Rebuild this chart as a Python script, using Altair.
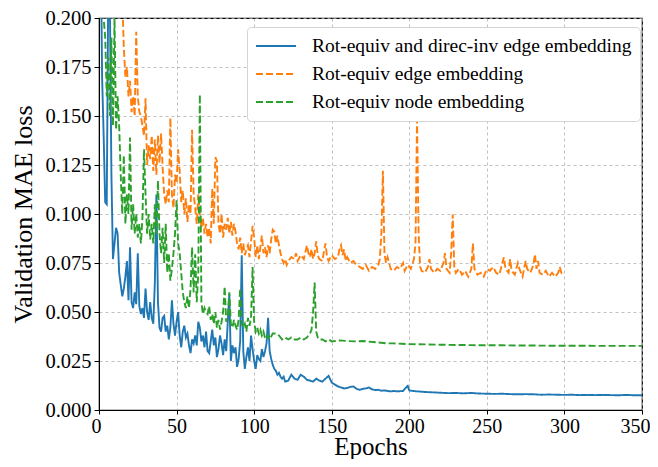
import altair as alt
import pandas as pd

# ---------------- data ----------------
series_names = [
    "Rot-equiv and direc-inv edge embedding",
    "Rot-equiv edge embedding",
    "Rot-equiv node embedding",
]
series_colors = ["#1f77b4", "#ff7f0e", "#2ca02c"]
series_dashes = [[1, 0], [7, 3], [7, 3]]

blue_epochs = list(range(0, 120)) + list(range(120, 198, 2)) + [198, 199, 200] + list(range(205, 351, 5))
blue_values = [
    0.40, 0.25, 0.17, 0.14, 0.106, 0.105, 0.22, 0.21, 0.12, 0.077,
    0.085, 0.093, 0.090, 0.070, 0.064, 0.058, 0.062, 0.068, 0.076, 0.056,
    0.083, 0.055, 0.052, 0.060, 0.054, 0.080, 0.053, 0.049, 0.052, 0.047,
    0.062, 0.050, 0.046, 0.055, 0.047, 0.044, 0.065, 0.110, 0.055, 0.042,
    0.040, 0.047, 0.048, 0.040, 0.043, 0.036, 0.042, 0.056, 0.044, 0.038,
    0.045, 0.050, 0.038, 0.032, 0.040, 0.043, 0.037, 0.039, 0.033, 0.029,
    0.036, 0.034, 0.038, 0.033, 0.045, 0.042, 0.035, 0.038, 0.032, 0.040,
    0.030, 0.029, 0.035, 0.041, 0.033, 0.037, 0.027, 0.031, 0.038, 0.034,
    0.028, 0.036, 0.030, 0.045, 0.059, 0.025, 0.033, 0.029, 0.032, 0.022,
    0.026, 0.035, 0.079, 0.030, 0.021, 0.027, 0.032, 0.025, 0.038, 0.031,
    0.025, 0.021, 0.028, 0.026, 0.025, 0.031, 0.027, 0.030, 0.034, 0.047,
    0.030, 0.026, 0.023, 0.021, 0.020, 0.018, 0.019, 0.017, 0.016, 0.017,
    # 120..196 step 2
    0.0145, 0.015, 0.018, 0.016, 0.0154, 0.018, 0.017, 0.0154, 0.015, 0.0145,
    0.016, 0.015, 0.0145, 0.016, 0.0174, 0.014, 0.013, 0.012, 0.0115, 0.011,
    0.0112, 0.0118, 0.012, 0.0108, 0.0103, 0.0108, 0.011, 0.0115, 0.0105, 0.0102,
    0.0103, 0.0098, 0.0100, 0.0097, 0.0095, 0.0097, 0.0095, 0.0096, 0.0097,
    # 198, 199, 200
    0.0115, 0.0123, 0.0100,
    # 205..350 step 5
    0.0095, 0.0092, 0.0090, 0.0088, 0.0086, 0.0087, 0.0085, 0.0087, 0.0084, 0.0083,
    0.0082, 0.0083, 0.0081, 0.0080, 0.0081, 0.0080, 0.0078, 0.0079, 0.0078, 0.0077,
    0.0078, 0.0076, 0.0077, 0.0076, 0.0077, 0.0076, 0.0075, 0.0077, 0.0075, 0.0075,
]

orange_epochs = list(range(0, 121)) + [
    121, 122, 124, 126, 127, 128, 130, 132, 134, 135,
    136, 137, 138, 139, 140, 141, 142, 144, 145, 146,
    147, 148, 150, 152, 154, 155, 156, 157, 158, 159,
    160, 162, 164, 166, 168, 170, 172, 174, 176, 178,
    180, 181, 182, 183, 184, 185, 186, 188, 190, 192,
    194, 196, 197, 199, 201, 203, 204, 205, 206, 207,
    208, 210, 212, 213, 214, 216, 218, 220, 222, 223,
    224, 226, 227, 228, 229, 230, 232, 234, 236, 238,
    240, 241, 242, 244, 246, 248, 250, 252, 254, 256,
    258, 260, 261, 262, 264, 265, 266, 268, 270, 271,
    273, 275, 276, 278, 280, 281, 282, 283, 284, 286,
    288, 290, 292, 294, 296, 297, 298, 299,
]
orange_values = [
    0.50, 0.40, 0.35, 0.32, 0.30, 0.28, 0.26, 0.25, 0.24, 0.23,
    0.22, 0.215, 0.21, 0.205, 0.20, 0.21, 0.185, 0.17, 0.175, 0.16,
    0.168, 0.152, 0.16, 0.15, 0.193, 0.16, 0.152, 0.15, 0.145, 0.140,
    0.159, 0.125, 0.135, 0.128, 0.140, 0.122, 0.138, 0.12, 0.140, 0.126,
    0.141, 0.124, 0.11, 0.105, 0.112, 0.106, 0.149, 0.11, 0.103, 0.120,
    0.116, 0.133, 0.122, 0.106, 0.112, 0.100, 0.108, 0.096, 0.105, 0.100,
    0.143, 0.11, 0.103, 0.095, 0.11, 0.10, 0.093, 0.098, 0.090, 0.095,
    0.088, 0.093, 0.085, 0.113, 0.095, 0.129, 0.127, 0.095, 0.090, 0.100,
    0.088, 0.095, 0.092, 0.098, 0.090, 0.096, 0.089, 0.095, 0.091, 0.085,
    0.082, 0.088, 0.080, 0.085, 0.079, 0.082, 0.084, 0.078, 0.086, 0.094,
    0.088, 0.078, 0.084, 0.077, 0.083, 0.089, 0.080, 0.083, 0.078, 0.084,
    0.080, 0.087, 0.092, 0.091, 0.085, 0.089, 0.084, 0.080, 0.077, 0.075,
    0.077,
    # sparse tail (aligned with the tail of orange_epochs)
    0.074, 0.076, 0.078, 0.077, 0.080, 0.076, 0.079, 0.077, 0.084, 0.080,
    0.078, 0.082, 0.077, 0.080, 0.086, 0.079, 0.077, 0.076, 0.081, 0.085,
    0.078, 0.076, 0.079, 0.077, 0.078, 0.082, 0.084, 0.079, 0.082, 0.076,
    0.078, 0.075, 0.076, 0.074, 0.073, 0.072, 0.074, 0.071, 0.073, 0.072,
    0.074, 0.077, 0.090, 0.122, 0.080, 0.075, 0.078, 0.072, 0.071, 0.073,
    0.072, 0.075, 0.071, 0.074, 0.072, 0.077, 0.085, 0.148, 0.090, 0.073,
    0.071, 0.070, 0.073, 0.077, 0.072, 0.070, 0.072, 0.071, 0.075, 0.080,
    0.072, 0.070, 0.080, 0.0997, 0.073, 0.070, 0.072, 0.069, 0.071, 0.068,
    0.072, 0.085, 0.072, 0.069, 0.070, 0.068, 0.072, 0.071, 0.073, 0.070,
    0.069, 0.075, 0.078, 0.072, 0.070, 0.077, 0.071, 0.069, 0.075, 0.072,
    0.068, 0.076, 0.072, 0.070, 0.074, 0.0795, 0.072, 0.076, 0.070, 0.069,
    0.071, 0.068, 0.070, 0.068, 0.070, 0.073, 0.070, 0.069,
]

green_epochs = list(range(0, 111)) + [
    112, 114, 116, 118, 120, 122, 124, 126, 128, 130,
    132, 134, 136, 137, 138, 139, 140, 141, 142, 144,
    146, 148, 150, 155, 160, 165, 170, 175, 180,
    185, 190, 195, 200, 210, 220, 230, 240, 250, 260,
    270, 280, 290, 300, 310, 320, 330, 340, 350,
]
green_values = [
    0.30, 0.25, 0.21, 0.20, 0.19, 0.16, 0.18, 0.15, 0.19, 0.145,
    0.20, 0.143, 0.16, 0.145, 0.12, 0.10, 0.13, 0.095, 0.11, 0.10,
    0.139, 0.092, 0.105, 0.090, 0.10, 0.088, 0.095, 0.085, 0.098, 0.133,
    0.11, 0.09, 0.10, 0.087, 0.095, 0.085, 0.105, 0.09, 0.117, 0.09,
    0.08, 0.093, 0.075, 0.095, 0.070, 0.080, 0.066, 0.072, 0.080, 0.090,
    0.107, 0.085, 0.080, 0.070, 0.060, 0.055, 0.052, 0.058, 0.052, 0.062,
    0.083, 0.060, 0.0795, 0.055, 0.070, 0.161, 0.055, 0.049, 0.052, 0.050,
    0.049, 0.053, 0.046, 0.049, 0.044, 0.050, 0.042, 0.046, 0.041, 0.045,
    0.050, 0.063, 0.045, 0.048, 0.060, 0.044, 0.042, 0.046, 0.043, 0.041,
    0.046, 0.062, 0.044, 0.042, 0.044, 0.040, 0.047, 0.043, 0.047, 0.073,
    0.045, 0.040, 0.042, 0.039, 0.041, 0.038, 0.040, 0.037, 0.036, 0.038,
    0.036,
    0.039, 0.039, 0.038, 0.036, 0.037, 0.036, 0.037, 0.036, 0.036, 0.037,
    0.036, 0.037, 0.039, 0.041, 0.050, 0.065, 0.040, 0.037, 0.036, 0.036,
    0.035, 0.036, 0.035, 0.0355, 0.0352, 0.035, 0.0352, 0.0348, 0.0345,
    0.034, 0.034, 0.0338, 0.0336, 0.0335, 0.0333, 0.0332, 0.0331, 0.033, 0.033,
    0.0329, 0.0329, 0.0328, 0.0328, 0.0328, 0.0327, 0.0327, 0.0327, 0.0327,
]

x_ticks = [0, 50, 100, 150, 200, 250, 300, 350]
y_ticks = [0.0, 0.025, 0.05, 0.075, 0.1, 0.125, 0.15, 0.175, 0.2]

# ---------------- frame ----------------
frames = []
for name, ep, val in [
    (series_names[0], blue_epochs, blue_values),
    (series_names[1], orange_epochs, orange_values),
    (series_names[2], green_epochs, green_values),
]:
    frames.append(pd.DataFrame({"epoch": ep, "loss": val, "series": name}))
df = pd.concat(frames, ignore_index=True)

FONT = "Liberation Serif"

legend = alt.Legend(
    title=None,
    orient="none",
    legendX=148,
    legendY=9,
    symbolType="stroke",
    symbolSize=1600,
    symbolStrokeWidth=2,
    clipHeight=22,
    labelFont=FONT,
    labelFontSize=19.5,
    labelColor="#000000",
    labelLimit=0,
    labelOffset=15,
    fillColor="#ffffff",
    strokeColor="#d4d4d4",
    cornerRadius=4,
    padding=8,
    rowPadding=6,
)

base = alt.Chart(df).mark_line(clip=True, strokeWidth=1.9).encode(
    x=alt.X("epoch:Q", scale=alt.Scale(domain=[0, 350], nice=False),
            axis=alt.Axis(values=x_ticks, title="Epochs", format="d",
                          labelFlush=True, labelFlushOffset=8,
                          labelFontSize=20, tickSize=4, labelPadding=2,
                          titleFontSize=25, titleY=44, titleBaseline="alphabetic")),
    y=alt.Y("loss:Q", scale=alt.Scale(domain=[0, 0.2], nice=False),
            axis=alt.Axis(values=y_ticks, title="Validation MAE loss", format=".3f", labelFlush=False)),
    color=alt.Color("series:N", scale=alt.Scale(domain=series_names, range=series_colors), legend=legend),
    strokeDash=alt.StrokeDash("series:N", scale=alt.Scale(domain=series_names, range=series_dashes), legend=legend),
)

layers = [base.transform_filter(alt.datum.series == n) for n in series_names]

chart = alt.layer(*layers).properties(
    width=543,
    height=392,
    autosize=alt.AutoSizeParams(type="none"),
    padding={"left": 91, "top": 10, "right": 8, "bottom": 49},
).configure_view(
    stroke="#000000", strokeWidth=1.2
).configure_axis(
    labelFont=FONT,
    titleFont=FONT,
    labelFontSize=20.5,
    titleFontSize=26,
    titleFontWeight="normal",
    labelColor="#000000",
    titleColor="#000000",
    domainColor="#000000",
    tickColor="#000000",
    tickSize=5,
    labelPadding=3,
    grid=True,
    gridColor="#b0b0b0",
    gridDash=[3, 3],
    gridWidth=0.8,
).configure_axisY(
    titlePadding=8,
)

chart.save("out.html", embed_options={"renderer": "svg", "actions": False})
